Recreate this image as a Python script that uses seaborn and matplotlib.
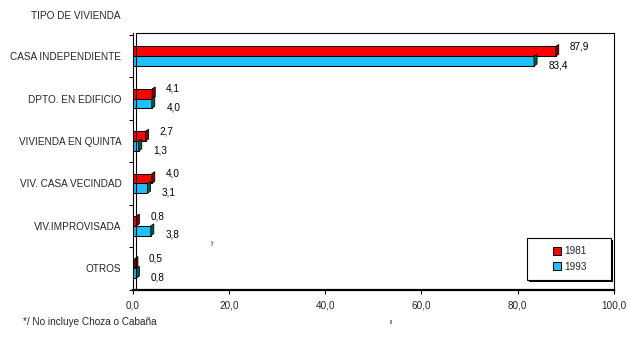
import matplotlib
matplotlib.use("Agg")
import matplotlib.pyplot as plt
import seaborn as sns
import pandas as pd
from matplotlib.patches import Polygon, Rectangle, Patch
from matplotlib.lines import Line2D

categories = ["CASA INDEPENDIENTE", "DPTO. EN EDIFICIO", "VIVIENDA EN QUINTA",
              "VIV. CASA VECINDAD", "VIV.IMPROVISADA", "OTROS"]
years = ["1981", "1993"]
values_1981 = [87.9, 4.1, 2.7, 4.0, 0.8, 0.5]
values_1993 = [83.4, 4.0, 1.3, 3.1, 3.8, 0.8]
xticks = [0, 20, 40, 60, 80, 100]
xtick_labels = ["0,0", "20,0", "40,0", "60,0", "80,0", "100,0"]

colors = ["#FF0000", "#20BFFF"]
side_colors = ["#800000", "#006040"]

df = pd.DataFrame({
    "Tipo": categories * 2,
    "Año": [years[0]] * len(categories) + [years[1]] * len(categories),
    "Valor": values_1981 + values_1993,
})

sns.set_theme(style="white")
plt.rcParams["font.family"] = ["Liberation Sans", "DejaVu Sans"]
FS = 7.2

W, H = 637, 343
fig = plt.figure(figsize=(W / 100, H / 100), dpi=100)
ax_l, ax_r, ax_t, ax_b = 132.5, 614, 33, 289.5
ax = fig.add_axes([ax_l / W, 1 - ax_b / H, (ax_r - ax_l) / W, (ax_b - ax_t) / H])

sns.barplot(data=df, y="Tipo", x="Valor", hue="Año", orient="h",
            palette=colors, width=0.46, edgecolor="black", linewidth=0.75,
            dodge=True, ax=ax, legend=False, saturation=1)

px_per_cat = (ax_b - 35) / 6.0
ax.set_xlim(0, 100)
ax.set_ylim(5.5, -0.5 - 2 / px_per_cat)
px_per_x = (ax_r - ax_l) / 100.0

# 3D side faces for bars
dx = 3 / px_per_x
dy = -2 / px_per_cat
bars = [p for p in ax.patches]
n = len(categories)
for i, p in enumerate(bars):
    x1 = p.get_x() + p.get_width()
    y0 = p.get_y()
    y1 = y0 + p.get_height()
    sc = side_colors[0] if i < n else side_colors[1]
    poly = Polygon([(x1, y0), (x1 + dx, y0 + dy), (x1 + dx, y1 + dy), (x1, y1)],
                   closed=True, facecolor=sc, edgecolor="black", linewidth=0.6, zorder=p.get_zorder())
    ax.add_patch(poly)
    v = p.get_width()
    txt = f"{v:.1f}".replace(".", ",")
    yc = y0 + p.get_height() / 2
    if i < n:
        ax.annotate(txt, xy=(x1, yc), xytext=(10, 3.5), textcoords="offset points",
                    ha="left", va="center", fontsize=FS, color="black")
    else:
        ax.annotate(txt, xy=(x1, yc), xytext=(10.5, -3.0), textcoords="offset points",
                    ha="left", va="center", fontsize=FS, color="black")

# axes styling
ax.set_xlabel("")
ax.set_ylabel("")
ax.spines["top"].set_visible(False)
for s in ["left", "right"]:
    ax.spines[s].set_color("black")
    ax.spines[s].set_linewidth(0.8)
ax.spines["bottom"].set_color("black")
ax.spines["bottom"].set_linewidth(1.6)

inner = 3 / (ax_r - ax_l)
ax.add_line(Line2D([inner, 1], [1, 1], transform=ax.transAxes, color="black", lw=0.8, clip_on=False))
ax.add_line(Line2D([inner, inner], [0, 1], transform=ax.transAxes, color="black", lw=0.8, clip_on=False))

ax.set_xticks(xticks)
ax.set_xticklabels(xtick_labels, fontsize=FS)
ax.tick_params(axis="x", direction="out", length=3, width=0.8, color="black", pad=5, bottom=True)
ax.set_yticks(range(n))
ax.set_yticklabels(categories, fontsize=FS)
ax.set_yticks([i - 0.5 for i in range(n + 1)], minor=True)
ax.tick_params(axis="y", which="major", length=0, pad=8)
ax.tick_params(axis="y", which="minor", direction="out", length=3, width=0.8, color="black", left=True)
ax.grid(False)

# legend
lx0, ly0, lx1, ly1 = 527, 238, 611, 280
def afx(x):
    return (x - ax_l) / (ax_r - ax_l)
def afy(y):
    return (ax_b - y) / (ax_b - ax_t)
ax.add_patch(Rectangle((afx(lx0 + 2), afy(ly1 + 2)), afx(lx1) - afx(lx0), afy(ly0) - afy(ly1),
                       transform=ax.transAxes, facecolor="black", edgecolor="black", lw=0, clip_on=False, zorder=5))
ax.add_patch(Rectangle((afx(lx0), afy(ly1)), afx(lx1) - afx(lx0), afy(ly0) - afy(ly1),
                       transform=ax.transAxes, facecolor="white", edgecolor="black", lw=0.8, clip_on=False, zorder=6))
handles = [Patch(facecolor=c, edgecolor="black", linewidth=0.7) for c in colors]
leg = ax.legend(handles, years, loc="center", bbox_to_anchor=(afx((lx0 + lx1) / 2 + 1), afy((ly0 + ly1) / 2)),
                frameon=False, fontsize=FS, handlelength=0.8, handleheight=0.8,
                handletextpad=0.35, labelspacing=0.55, borderpad=0)
leg.set_zorder(7)

fig.text(31 / W, 1 - 16 / H, "TIPO DE VIVIENDA", fontsize=FS, ha="left", va="center")
fig.text(23 / W, 1 - 322 / H, "*/ No incluye Choza o Cabaña", fontsize=FS, ha="left", va="center")
fig.text(211 / W, 1 - 245 / H, "'r", fontsize=5, ha="left", va="center")
fig.text(391 / W, 1 - 323 / H, "ı", fontsize=5, ha="center", va="center", fontweight="bold")

fig.savefig("out.png", dpi=100)
